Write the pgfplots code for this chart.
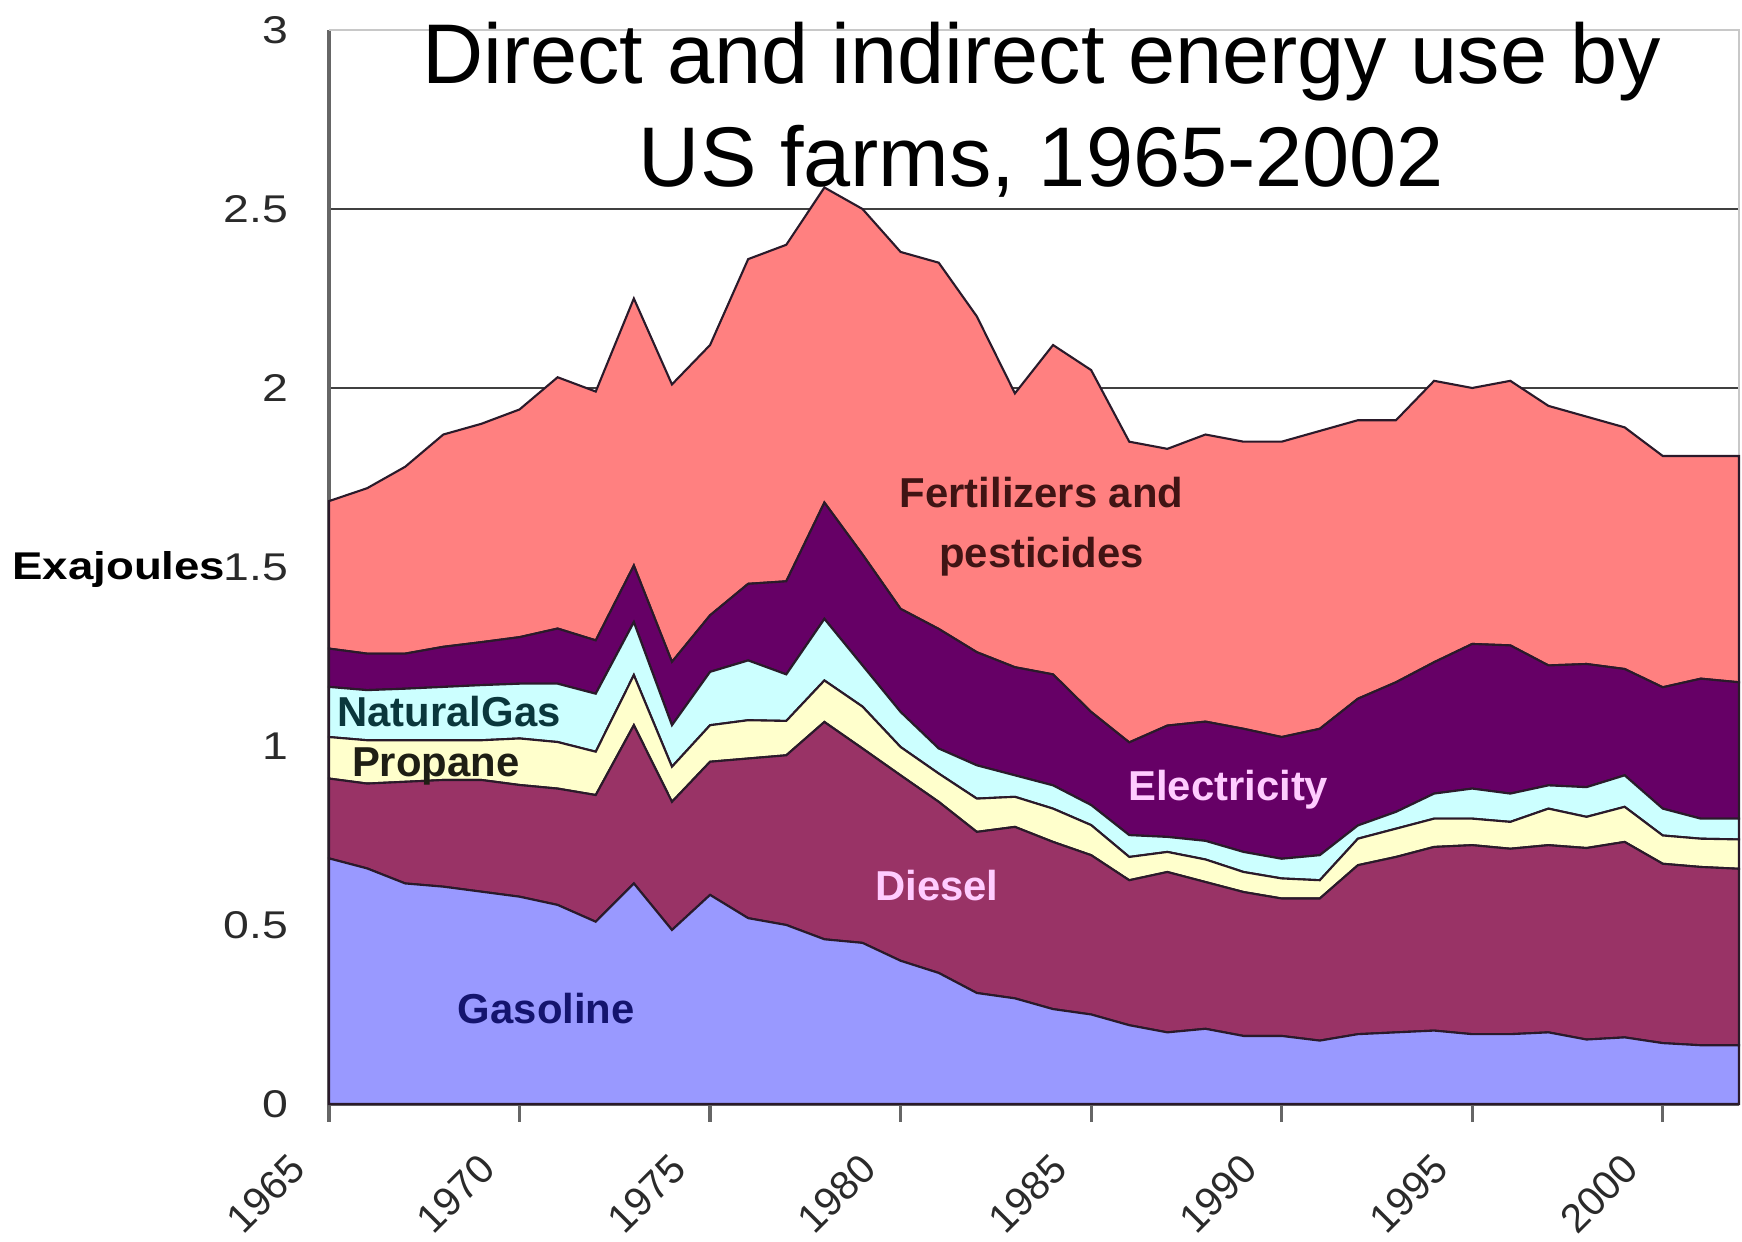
\documentclass[border=0pt]{standalone}
\usepackage{fontspec}
\setmainfont{Liberation Sans}
\usepackage{graphicx}
\usepackage{pgfplots}
\pgfplotsset{compat=1.18}
\usepackage{pgfplotstable}

\definecolor{gascol}{HTML}{9999FF}
\definecolor{dieselcol}{HTML}{993366}
\definecolor{propcol}{HTML}{FFFFCC}
\definecolor{ngcol}{HTML}{CCFFFF}
\definecolor{eleccol}{HTML}{660066}
\definecolor{fertcol}{HTML}{FF8080}
\definecolor{edgecol}{HTML}{2A1A2A}
\definecolor{gridcol}{HTML}{404040}
\definecolor{framecol}{HTML}{C8C8C8}
\definecolor{tickcol}{HTML}{2A2A2A}
\definecolor{fertlbl}{HTML}{401414}
\definecolor{nglbl}{HTML}{0A373C}
\definecolor{proplbl}{HTML}{1E1E14}
\definecolor{pinklbl}{HTML}{FFCCFF}
\definecolor{gaslbl}{HTML}{14146E}

\tikzset{
  serieslabel/.style={font=\bfseries\fontsize{11.9}{14}\selectfont, anchor=base, inner sep=0pt},
  titleline/.style={font=\fontsize{24.1}{29}\selectfont, anchor=base, inner sep=0pt},
}

% Energy use by US farms, exajoules per year, by source
\pgfplotstableread{
year gas   diesel propane natgas elec  fert
1965 0.686 0.223  0.116   0.140  0.107 0.412
1966 0.658 0.237  0.121   0.140  0.102 0.462
1967 0.616 0.284  0.116   0.144  0.098 0.522
1968 0.607 0.298  0.111   0.149  0.112 0.593
1969 0.593 0.312  0.111   0.154  0.120 0.610
1970 0.579 0.312  0.130   0.153  0.130 0.636
1971 0.556 0.325  0.130   0.163  0.154 0.702
1972 0.509 0.354  0.121   0.162  0.149 0.695
1973 0.616 0.442  0.140   0.148  0.158 0.746
1974 0.486 0.358  0.098   0.116  0.177 0.775
1975 0.584 0.372  0.102   0.149  0.158 0.755
1976 0.519 0.446  0.107   0.167  0.214 0.907
1977 0.500 0.474  0.096   0.130  0.260 0.940
1978 0.460 0.607  0.116   0.172  0.325 0.880
1979 0.450 0.543  0.117   0.115  0.310 0.965
1980 0.400 0.518  0.079   0.098  0.288 0.997
1981 0.366 0.478  0.079   0.070  0.334 1.023
1982 0.310 0.450  0.093   0.093  0.316 0.938
1983 0.295 0.479  0.084   0.060  0.302 0.765
1984 0.265 0.467  0.093   0.065  0.310 0.920
1985 0.250 0.445  0.084   0.056  0.260 0.955
1986 0.220 0.405  0.065   0.061  0.259 0.840
1987 0.200 0.448  0.056   0.042  0.311 0.773
1988 0.210 0.410  0.063   0.052  0.333 0.802
1989 0.190 0.402  0.056   0.056  0.344 0.802
1990 0.190 0.384  0.056   0.055  0.340 0.825
1991 0.177 0.397  0.051   0.070  0.353 0.832
1992 0.195 0.472  0.074   0.037  0.354 0.778
1993 0.200 0.490  0.079   0.047  0.362 0.732
1994 0.205 0.513  0.079   0.070  0.367 0.786
1995 0.195 0.528  0.074   0.084  0.404 0.715
1996 0.195 0.518  0.075   0.079  0.414 0.739
1997 0.200 0.523  0.102   0.065  0.335 0.725
1998 0.180 0.535  0.087   0.083  0.344 0.691
1999 0.186 0.546  0.098   0.088  0.297 0.675
2000 0.170 0.501  0.079   0.075  0.339 0.646
2001 0.164 0.498  0.079   0.056  0.391 0.622
2002 0.164 0.493  0.082   0.058  0.381 0.632
}\farmenergy

\begin{document}
\begin{tikzpicture}
\path[use as bounding box] (-3.29cm,-1.38cm) rectangle (14.13cm,11.04cm);
\begin{axis}[
  scale only axis,
  width=14.10cm, height=10.74cm,
  xmin=1965, xmax=2002, ymin=0, ymax=3,
  stack plots=y,
  axis x line*=bottom, axis y line*=left,
  axis line style={draw=black!60, line width=0.9pt},
  xtick={1965,1970,...,2000},
  ytick={0,0.5,...,2.5},
  extra y ticks={3},
  extra y tick style={grid=none},
  ymajorgrids,
  grid style={draw=gridcol, line width=0.8pt},
  tick align=outside,
  major tick length=1.8mm,
  xtick style={draw=black!60, line width=0.9pt},
  ytick style={draw=none},
  /pgf/number format/assume math mode=true,
  /pgf/number format/1000 sep={},
  yticklabel={\scalebox{1.2}[1]{\pgfmathprintnumber{\tick}}},
  yticklabel style={font=\fontsize{11}{13}\selectfont, text=tickcol,
    anchor=east, inner sep=0pt, xshift=-2.2mm},
  xticklabel style={font=\fontsize{11.5}{13}\selectfont, text=tickcol,
    anchor=north east, inner sep=0pt, xshift=-4.2mm, yshift=-2.9mm, rotate=45},
  clip=false,
]
\addplot[fill=gascol, draw=edgecol, line width=0.6pt] table[x=year, y=gas] {\farmenergy} \closedcycle;
\addplot[fill=dieselcol, draw=edgecol, line width=0.6pt] table[x=year, y=diesel] {\farmenergy} \closedcycle;
\addplot[fill=propcol, draw=edgecol, line width=0.6pt] table[x=year, y=propane] {\farmenergy} \closedcycle;
\addplot[fill=ngcol, draw=edgecol, line width=0.6pt] table[x=year, y=natgas] {\farmenergy} \closedcycle;
\addplot[fill=eleccol, draw=edgecol, line width=0.6pt] table[x=year, y=elec] {\farmenergy} \closedcycle;
\addplot[fill=fertcol, draw=edgecol, line width=0.6pt] table[x=year, y=fert] {\farmenergy} \closedcycle;

% light frame on the top and right sides of the plot area
\draw[framecol, line width=0.8pt] (rel axis cs:0,1) -- (rel axis cs:1,1) -- (rel axis cs:1,0);
\end{axis}

% The axis box spans (0,0) to (14.10cm,10.74cm): 1965-2002 across, 0-3 EJ up.
% series names
\node[serieslabel, color=fertlbl] at (7.126cm,5.964cm) {Fertilizers and};
\node[serieslabel, color=fertlbl] at (7.126cm,5.362cm) {pesticides};
\node[serieslabel, color=nglbl] at (1.200cm,3.777cm) {NaturalGas};
\node[serieslabel, color=proplbl] at (1.067cm,3.276cm) {Propane};
\node[serieslabel, color=pinklbl] at (8.993cm,3.032cm) {Electricity};
\node[serieslabel, color=pinklbl] at (6.079cm,2.033cm) {Diesel};
\node[serieslabel, color=gaslbl] at (2.173cm,0.809cm) {Gasoline};

% axis title at the 1.5 level
\node[font=\bfseries\fontsize{11}{13}\selectfont, anchor=base east, inner sep=0pt]
  at (-1.03cm,5.24cm) {\scalebox{1.18}[1]{Exajoules}};

% chart title
\node[titleline] at (7.125cm,10.20cm) {Direct and indirect energy use by};
\node[titleline] at (7.125cm,9.17cm) {US farms, 1965-2002};
\end{tikzpicture}
\end{document}
